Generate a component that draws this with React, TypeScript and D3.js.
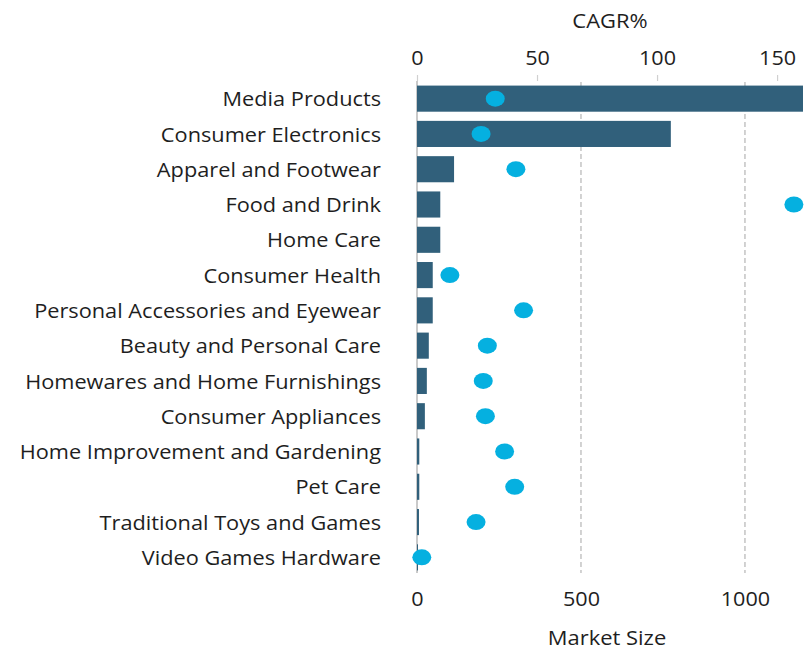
import { useEffect, useRef } from "react";
import * as d3 from "d3";

const categories = [
  "Media Products",
  "Consumer Electronics",
  "Apparel and Footwear",
  "Food and Drink",
  "Home Care",
  "Consumer Health",
  "Personal Accessories and Eyewear",
  "Beauty and Personal Care",
  "Homewares and Home Furnishings",
  "Consumer Appliances",
  "Home Improvement and Gardening",
  "Pet Care",
  "Traditional Toys and Games",
  "Video Games Hardware",
];
const marketSize = [1177, 774, 113, 71, 71, 48, 48, 36, 30, 24, 7, 7, 6, 3];
const cagr: (number | null)[] = [32.6, 26.7, 41.2, 157, null, 13.7, 44.4, 29.3, 27.6, 28.5, 36.5, 40.7, 24.6, 2];
const sizeTicks = [0, 500, 1000];
const sizeGrid = [500, 1000];
const cagrTicks = [0, 50, 100, 150];

const width = 810;
const height = 650;
const margin = { top: 81, right: 7, bottom: 75, left: 417 };
const axisBottomY = 573;
const font = "'Open Sans', sans-serif";
const textColor = "#1e1e1e";

const App = () => {
  const svgRef = useRef<SVGSVGElement>(null);

  useEffect(() => {
    if (!svgRef.current) return;
    const svg = d3.select(svgRef.current);
    svg.selectAll("*").remove();

    const x = d3.scaleLinear().domain([0, 1177]).range([margin.left, width - margin.right]);
    const xc = d3.scaleLinear().domain([0, 160.8]).range([margin.left, width - margin.right]);
    const y = d3
      .scaleBand()
      .domain(categories)
      .range([margin.top, height - margin.bottom])
      .paddingInner(0.26)
      .paddingOuter(0.13);

    // dashed grid for market size
    svg
      .append("g")
      .selectAll("line")
      .data(sizeGrid)
      .join("line")
      .attr("x1", (d) => x(d))
      .attr("x2", (d) => x(d))
      .attr("y1", margin.top + 1)
      .attr("y2", axisBottomY)
      .attr("stroke", "#c4c4c4")
      .attr("stroke-width", 1.5)
      .attr("stroke-dasharray", "5,3");

    // left axis line
    svg
      .append("line")
      .attr("x1", x(0))
      .attr("x2", x(0))
      .attr("y1", margin.top)
      .attr("y2", axisBottomY)
      .attr("stroke", "#b8b8b8")
      .attr("stroke-width", 1.5);

    // bars
    svg
      .append("g")
      .selectAll("rect")
      .data(categories)
      .join("rect")
      .attr("x", x(0))
      .attr("y", (d) => y(d)!)
      .attr("width", (d, i) => x(marketSize[i]) - x(0))
      .attr("height", y.bandwidth())
      .attr("fill", "#31607b");

    // CAGR dots
    svg
      .append("g")
      .selectAll("ellipse")
      .data(categories.filter((_, i) => cagr[i] !== null))
      .join("ellipse")
      .attr("cx", (d) => xc(cagr[categories.indexOf(d)] as number))
      .attr("cy", (d) => y(d)! + y.bandwidth() / 2)
      .attr("rx", 9.5)
      .attr("ry", 8)
      .attr("fill", "#05b0e0");

    // category labels (reference text is a bit wide, so stretch horizontally)
    svg
      .append("g")
      .selectAll("text")
      .data(categories)
      .join("text")
      .attr("transform", (d) => `translate(381, ${y(d)! + y.bandwidth() / 2}) scale(1.11, 1)`)
      .attr("text-anchor", "end")
      .attr("dominant-baseline", "central")
      .attr("font-family", font)
      .attr("font-size", 19.6)
      .attr("fill", textColor)
      .text((d) => d);

    // top axis (CAGR)
    const top = svg
      .append("g")
      .attr("transform", `translate(0, ${margin.top})`)
      .call(d3.axisTop(xc).tickValues(cagrTicks).tickSize(6).tickPadding(10.5));
    top.select(".domain").remove();
    top.selectAll(".tick line").attr("stroke", "#d0d0d0").attr("stroke-width", 1.2);
    top
      .selectAll(".tick text")
      .attr("transform", "scale(1.08, 1)")
      .attr("font-family", font)
      .attr("font-size", 20)
      .attr("fill", textColor);

    // bottom axis (Market Size)
    const bottom = svg
      .append("g")
      .attr("transform", `translate(0, ${axisBottomY})`)
      .call(
        d3
          .axisBottom(x)
          .tickValues(sizeTicks)
          .tickSize(0)
          .tickPadding(18.5)
          .tickFormat(d3.format("d")),
      );
    bottom.select(".domain").remove();
    bottom
      .selectAll(".tick text")
      .attr("transform", "scale(1.08, 1)")
      .attr("font-family", font)
      .attr("font-size", 20)
      .attr("fill", textColor);

    // axis titles
    svg
      .append("text")
      .attr("transform", "translate(610, 20) scale(1.12, 1)")
      .attr("text-anchor", "middle")
      .attr("dominant-baseline", "central")
      .attr("font-family", font)
      .attr("font-size", 19.6)
      .attr("fill", textColor)
      .text("CAGR%");

    svg
      .append("text")
      .attr("transform", "translate(607, 637) scale(1.12, 1)")
      .attr("text-anchor", "middle")
      .attr("dominant-baseline", "central")
      .attr("font-family", font)
      .attr("font-size", 19.6)
      .attr("fill", textColor)
      .text("Market Size");
  }, []);

  return (
    <div style={{ position: "absolute", left: 0, top: 0, background: "#fff" }}>
      <svg ref={svgRef} width={width} height={height} style={{ display: "block" }}></svg>
    </div>
  );
};

export default App;
